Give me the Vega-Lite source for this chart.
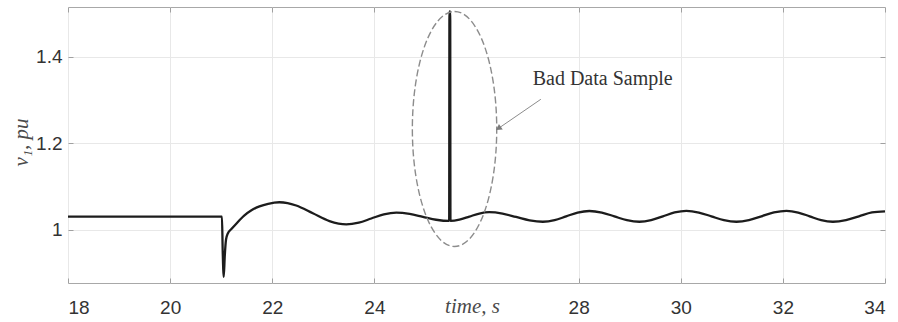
{
  "$schema": "https://vega.github.io/schema/vega-lite/v6.json",
  "width": 817,
  "height": 276,
  "autosize": {"type": "none"},
  "padding": {"left": 68, "top": 7, "right": 13, "bottom": 39},
  "background": "white",
  "config": {
    "view": {"stroke": "#a8a8a8", "strokeWidth": 1}
  },
  "datasets": {
    "v": [
      {"t": 18, "v": 1.031}, {"t": 20, "v": 1.031}, {"t": 21.0, "v": 1.031}, {"t": 21.015, "v": 1.031},
      {"t": 21.03, "v": 0.95}, {"t": 21.05, "v": 0.892}, {"t": 21.07, "v": 0.94}, {"t": 21.095, "v": 0.978},
      {"t": 21.13, "v": 0.992}, {"t": 21.2, "v": 1.002}, {"t": 21.3, "v": 1.015}, {"t": 21.45, "v": 1.033},
      {"t": 21.6, "v": 1.046}, {"t": 21.75, "v": 1.0545}, {"t": 21.92, "v": 1.0605}, {"t": 22.14, "v": 1.064},
      {"t": 22.3, "v": 1.0622}, {"t": 22.47, "v": 1.0565},
      {"t": 22.795, "v": 1.0385}, {"t": 23.12, "v": 1.0205}, {"t": 23.45, "v": 1.013}, {"t": 23.695, "v": 1.017},
      {"t": 23.94, "v": 1.0265}, {"t": 24.185, "v": 1.036}, {"t": 24.43, "v": 1.04}, {"t": 24.69, "v": 1.0372},
      {"t": 24.95, "v": 1.0304}, {"t": 25.21, "v": 1.0236}, {"t": 25.465, "v": 1.0208}, {"t": 25.47, "v": 1.504},
      {"t": 25.485, "v": 1.504}, {"t": 25.49, "v": 1.021}, {"t": 25.665, "v": 1.0238}, {"t": 25.86, "v": 1.0309},
      {"t": 26.055, "v": 1.038}, {"t": 26.25, "v": 1.041}, {"t": 26.51, "v": 1.0378}, {"t": 26.775, "v": 1.03},
      {"t": 27.04, "v": 1.0222}, {"t": 27.3, "v": 1.019}, {"t": 27.53, "v": 1.0226}, {"t": 27.755, "v": 1.0314},
      {"t": 27.98, "v": 1.0402}, {"t": 28.21, "v": 1.0438}, {"t": 28.455, "v": 1.0402}, {"t": 28.7, "v": 1.0314},
      {"t": 28.945, "v": 1.0226}, {"t": 29.19, "v": 1.019}, {"t": 29.42, "v": 1.0226}, {"t": 29.65, "v": 1.0315},
      {"t": 29.88, "v": 1.0404}, {"t": 30.11, "v": 1.044}, {"t": 30.355, "v": 1.0403}, {"t": 30.6, "v": 1.0315},
      {"t": 30.845, "v": 1.0226}, {"t": 31.09, "v": 1.019}, {"t": 31.335, "v": 1.0226}, {"t": 31.58, "v": 1.0315},
      {"t": 31.825, "v": 1.0404}, {"t": 32.07, "v": 1.044}, {"t": 32.3, "v": 1.0403}, {"t": 32.525, "v": 1.0315},
      {"t": 32.75, "v": 1.0226}, {"t": 32.98, "v": 1.019}, {"t": 33.235, "v": 1.0226}, {"t": 33.49, "v": 1.0315},
      {"t": 33.745, "v": 1.0404}, {"t": 34.0, "v": 1.043}
    ],
    "ellipse": [{"t": 25.57, "v": 1.233}],
    "arrow": [{"t": 27.26, "v": 1.3015, "t2": 26.45, "v2": 1.236}],
    "head": [{"t": 26.43, "v": 1.2346}],
    "label": [{"t": 27.1, "v": 1.3345, "text": "Bad Data Sample"}]
  },
  "resolve": {"axis": {"x": "independent", "y": "independent"}},
  "layer": [
    {
      "data": {"name": "v"},
      "mark": {"type": "line", "color": "#1c1c1c", "strokeWidth": 2.3, "interpolate": "monotone", "strokeJoin": "round"},
      "encoding": {
        "x": {
          "field": "t", "type": "quantitative",
          "scale": {"domain": [18, 34], "nice": false, "zero": false},
          "axis": {
            "orient": "bottom", "values": [18, 20, 22, 24, 28, 30, 32, 34],
            "grid": true, "gridColor": "#e8e8e8", "domain": false,
            "tickSize": -5, "tickColor": "#a0a0a0",
            "labelFont": "Liberation Sans", "labelFontSize": 19, "labelColor": "#333333",
            "labelPadding": 35, "labelBaseline": "alphabetic",
            "title": "time, s", "titleFont": "Liberation Serif", "titleFontStyle": "italic",
            "titleFontWeight": "normal", "titleFontSize": 21, "titleColor": "#4a4a4a",
            "titleX": 404, "titleY": 29, "titleBaseline": "alphabetic", "titleAlign": "center"
          }
        },
        "y": {
          "field": "v", "type": "quantitative",
          "scale": {"domain": [0.8777, 1.5144], "nice": false, "zero": false},
          "axis": {
            "orient": "left", "values": [1, 1.2, 1.4], "format": "~g",
            "grid": true, "gridColor": "#e8e8e8", "domain": false,
            "tickSize": -5, "tickColor": "#a0a0a0",
            "labelFont": "Liberation Sans", "labelFontSize": 19, "labelColor": "#333333",
            "labelPadding": 11,
            "title": "v₁, pu", "titleFont": "Liberation Serif", "titleFontStyle": "italic",
            "titleFontWeight": "normal", "titleFontSize": 21, "titleColor": "#4a4a4a",
            "titleX": -41, "titleY": 135, "titleAngle": -90, "titleBaseline": "alphabetic", "titleAlign": "center"
          }
        }
      }
    },
    {
      "data": {"name": "ellipse"},
      "mark": {
        "type": "point", "filled": false,
        "shape": "M 0 -1 A 0.359 1 0 1 1 0 1 A 0.359 1 0 1 1 0 -1 Z",
        "size": 55225, "stroke": "#8c8c8c", "strokeWidth": 1.4, "strokeDash": [7, 3], "opacity": 1
      },
      "encoding": {
        "x": {"field": "t", "type": "quantitative", "axis": null},
        "y": {"field": "v", "type": "quantitative", "axis": null}
      }
    },
    {
      "data": {"name": "arrow"},
      "mark": {"type": "rule", "color": "#8c8c8c", "strokeWidth": 1},
      "encoding": {
        "x": {"field": "t", "type": "quantitative", "axis": null},
        "y": {"field": "v", "type": "quantitative", "axis": null},
        "x2": {"field": "t2"},
        "y2": {"field": "v2"}
      }
    },
    {
      "data": {"name": "head"},
      "mark": {"type": "point", "shape": "triangle-right", "filled": true, "color": "#7a7a7a", "size": 45, "angle": 145.6, "opacity": 1},
      "encoding": {
        "x": {"field": "t", "type": "quantitative", "axis": null},
        "y": {"field": "v", "type": "quantitative", "axis": null}
      }
    },
    {
      "data": {"name": "label"},
      "mark": {"type": "text", "font": "Liberation Serif", "fontSize": 20, "color": "#333333", "align": "left", "baseline": "alphabetic"},
      "encoding": {
        "x": {
          "field": "t", "type": "quantitative",
          "axis": {"orient": "top", "values": [18, 20, 22, 24, 28, 30, 32, 34], "labels": false, "grid": false, "domain": false, "tickSize": -5, "tickColor": "#a0a0a0", "title": null}
        },
        "y": {
          "field": "v", "type": "quantitative",
          "axis": {"orient": "right", "values": [1, 1.2, 1.4], "labels": false, "grid": false, "domain": false, "tickSize": -5, "tickColor": "#a0a0a0", "title": null}
        },
        "text": {"field": "text"}
      }
    }
  ]
}
